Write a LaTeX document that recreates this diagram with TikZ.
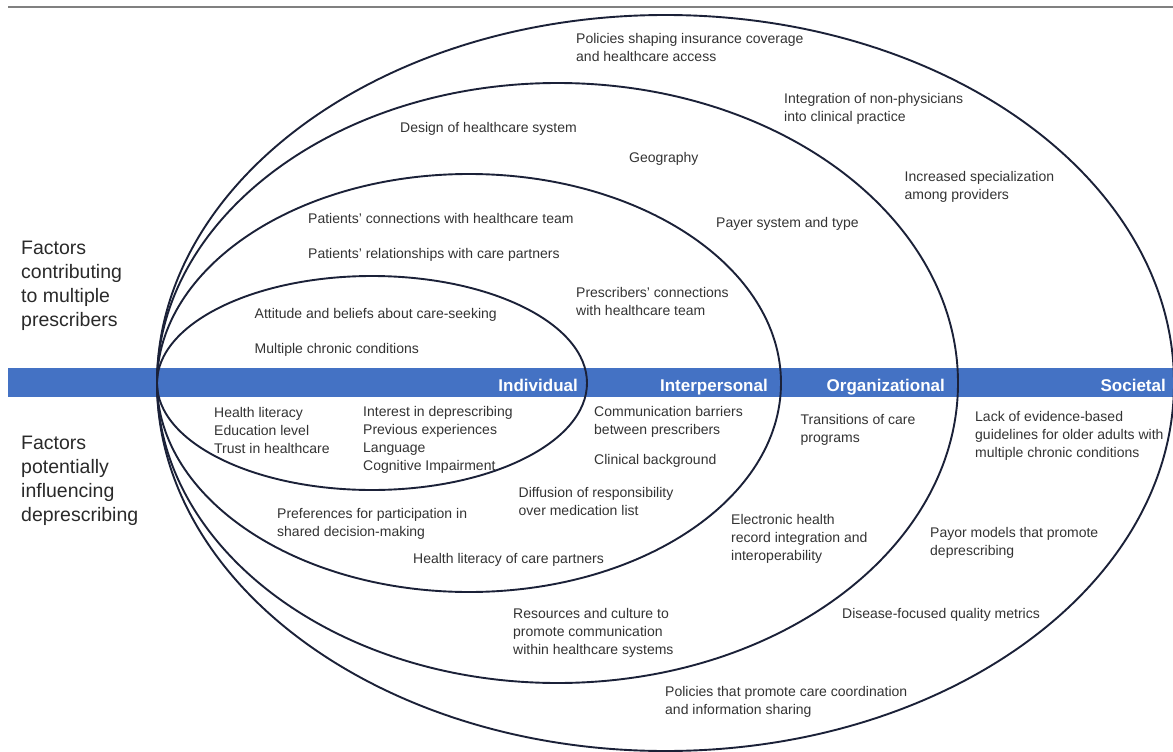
\documentclass[tikz,border=0pt]{standalone}
\usepackage{fontspec}
\setmainfont{Liberation Sans}
\definecolor{bandc}{HTML}{4472C4}
\definecolor{ringc}{HTML}{1B2138}
\definecolor{txtc}{HTML}{333333}
\definecolor{bigc}{HTML}{2A2A2A}
\definecolor{topc}{HTML}{808080}
\begin{document}
\begin{tikzpicture}[x=1pt,y=-1pt,
  txt/.style={anchor=north west, inner sep=0pt, align=left, text=txtc, font=\fontsize{14}{18}\selectfont},
  big/.style={anchor=north west, inner sep=0pt, align=left, text=bigc, font=\fontsize{19.5}{23.8}\selectfont},
  lvl/.style={anchor=base east, inner sep=0pt, text=white, font=\fontsize{17}{20}\selectfont\bfseries},
  ring/.style={draw=ringc, line width=1.9pt}]
\useasboundingbox (0,0) rectangle (1173,752);
\fill[white] (0,0) rectangle (1173,752);
\draw[topc, line width=1.5pt] (8,7) -- (1173,7);
\fill[bandc] (8,368) rectangle (1173,397);
% level labels
\node[lvl] (lInd) at (578,391.5) {Individual};
\node[lvl] (lInt) at (768,391.5) {Interpersonal};
\node[lvl] (lOrg) at (945,391.5) {Organizational};
\node[lvl] (lSoc) at (1166,391.5) {Societal};
% ellipses
\draw[ring] (372,383) ellipse [x radius=215pt, y radius=107pt];
\draw[ring] (469,383) ellipse [x radius=312pt, y radius=209pt];
\draw[ring] (557.5,383) ellipse [x radius=400.5pt, y radius=300pt];
\draw[ring] (665.5,383) ellipse [x radius=508.5pt, y radius=368pt];
% side headings
\node[big] (fc) at (21,241) {Factors\\contributing\\to multiple\\prescribers};
\node[big] (fp) at (21,436) {Factors\\potentially\\influencing\\deprescribing};
% upper texts
\node[txt] (t1) at (576,33) {Policies shaping insurance coverage\\and healthcare access};
\node[txt] (t2) at (784,93) {Integration of non-physicians\\into clinical practice};
\node[txt] (t3) at (400,122) {Design of healthcare system};
\node[txt] (t4) at (629,152) {Geography};
\node[txt] (t5) at (904.5,171) {Increased specialization\\among providers};
\node[txt] (t6) at (308,213) {Patients' connections with healthcare team};
\node[txt] (t7) at (716,217) {Payer system and type};
\node[txt] (t8) at (308,248) {Patients' relationships with care partners};
\node[txt] (t9) at (576,287) {Prescribers' connections\\with healthcare team};
\node[txt] (t10) at (254.5,308) {Attitude and beliefs about care-seeking};
\node[txt] (t11) at (254.5,343) {Multiple chronic conditions};
% lower texts
\node[txt] (b1) at (214,407) {Health literacy\\Education level\\Trust in healthcare};
\node[txt] (b2) at (363,406) {Interest in deprescribing\\Previous experiences\\Language\\Cognitive Impairment};
\node[txt] (b3) at (594,406) {Communication barriers\\between prescribers};
\node[txt] (b4) at (594,454) {Clinical background};
\node[txt] (b5) at (800.5,414) {Transitions of care\\programs};
\node[txt] (b6) at (975,411) {Lack of evidence-based\\guidelines for older adults with\\multiple chronic conditions};
\node[txt] (b7) at (518.5,487) {Diffusion of responsibility\\over medication list};
\node[txt] (b8) at (277,508) {Preferences for participation in\\shared decision-making};
\node[txt] (b9) at (731,514) {Electronic health\\record integration and\\interoperability};
\node[txt] (b10) at (930,527) {Payor models that promote\\deprescribing};
\node[txt] (b11) at (413,553) {Health literacy of care partners};
\node[txt] (b12) at (513,608) {Resources and culture to\\promote communication\\within healthcare systems};
\node[txt] (b13) at (842,608) {Disease-focused quality metrics};
\node[txt] (b14) at (665,686) {Policies that promote care coordination\\and information sharing};
\end{tikzpicture}
\end{document}
